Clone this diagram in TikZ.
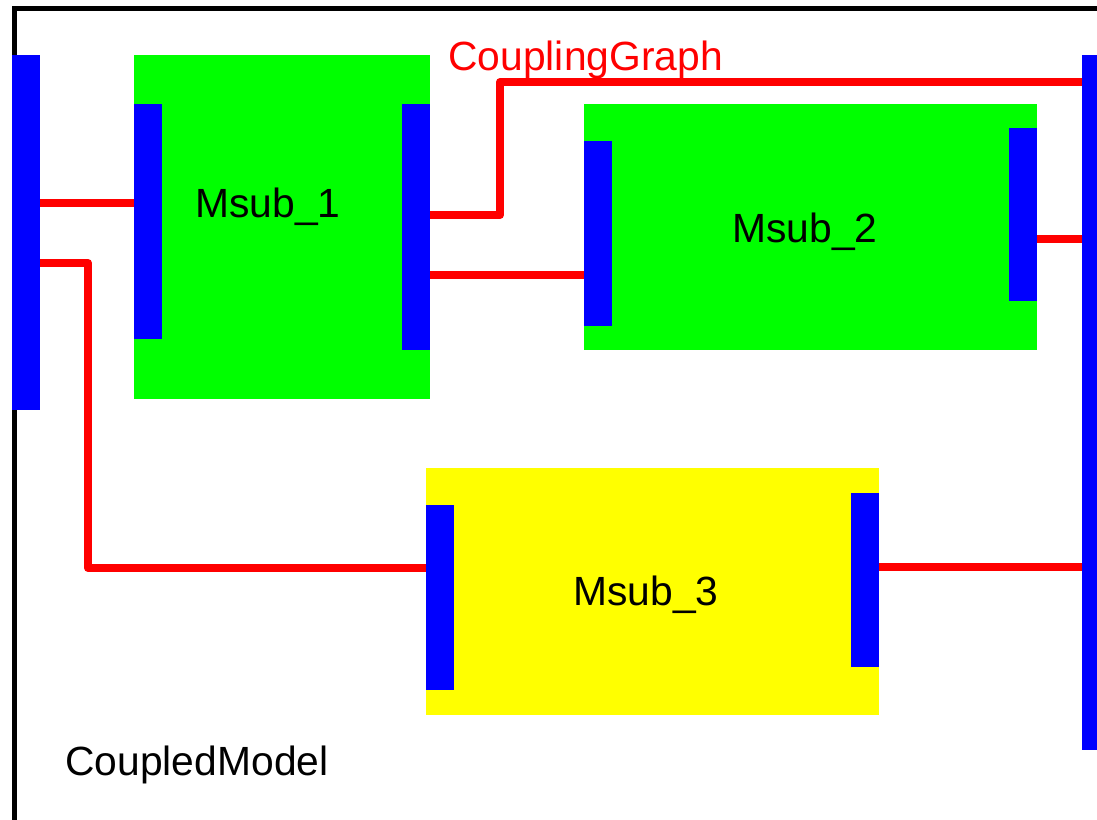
\documentclass[tikz,border=0pt]{standalone}
\usepackage{fontspec}
\setmainfont{Liberation Sans}
\definecolor{subgreen}{RGB}{0,255,0}
\definecolor{subyellow}{RGB}{255,255,0}
\begin{document}
\begin{tikzpicture}[x=.5pt,y=-.5pt,
  blk/.style={inner sep=0pt,outer sep=0pt,anchor=north west,minimum width=#1},
  port/.style={fill=blue,inner sep=0pt,outer sep=0pt,anchor=north west,minimum width=14pt,minimum height=#1},
  cpl/.style={red,line width=4pt,line join=round},
  lbl/.style={inner sep=0pt,anchor=base,font=\fontsize{20.4}{24}\selectfont}]
\clip (0,0) rectangle (1097,819);
\draw[line width=2.5pt] (14.5,8.5) rectangle (1130,850);
% sub models
\node[blk=148pt,fill=subgreen,minimum height=172pt] (m1) at (134,55) {};
\node[blk=226.5pt,fill=subgreen,minimum height=123pt] (m2) at (584,104) {};
\node[blk=226.5pt,fill=subyellow,minimum height=123.5pt] (m3) at (426,468) {};
% ports
\node[port=177.5pt] (lbus) at (12,55) {}; \node[port=347.5pt] (rbus) at (1082,55) {};
\node[port=117.5pt] (m1in) at (134,104) {}; \node[port=123pt] (m1out) at (402,104) {};
\node[port=92.5pt] (m2in) at (584,141) {}; \node[port=86.5pt] (m2out) at (1009,128) {};
\node[port=92.5pt] (m3in) at (426,505) {}; \node[port=87pt] (m3out) at (851,493) {};
% couplings
\draw[cpl] (lbus.east |- 0,203) -- (m1in.west |- 0,203);
\draw[cpl] (lbus.east |- 0,263) -- (88,263) -- (88,568) -- (m3in.west |- 0,568);
\draw[cpl] (m1out.east |- 0,215) -- (500,215) -- (500,82) -- (rbus.west |- 0,82);
\draw[cpl] (m1out.east |- 0,275) -- (m2in.west |- 0,275);
\draw[cpl] (m2out.east |- 0,239) -- (rbus.west |- 0,239);
\draw[cpl] (m3out.east |- 0,567) -- (rbus.west |- 0,567);
% labels
\node[lbl] (t1) at (268,217) {Msub\_1}; \node[lbl] (t2) at (805,242) {Msub\_2};
\node[lbl] (t3) at (646,605) {Msub\_3};
\node[lbl,anchor=base west,red] (cg) at (448,70) {CouplingGraph};
\node[lbl,anchor=base west] (cm) at (65,775) {CoupledModel};
\end{tikzpicture}
\end{document}
